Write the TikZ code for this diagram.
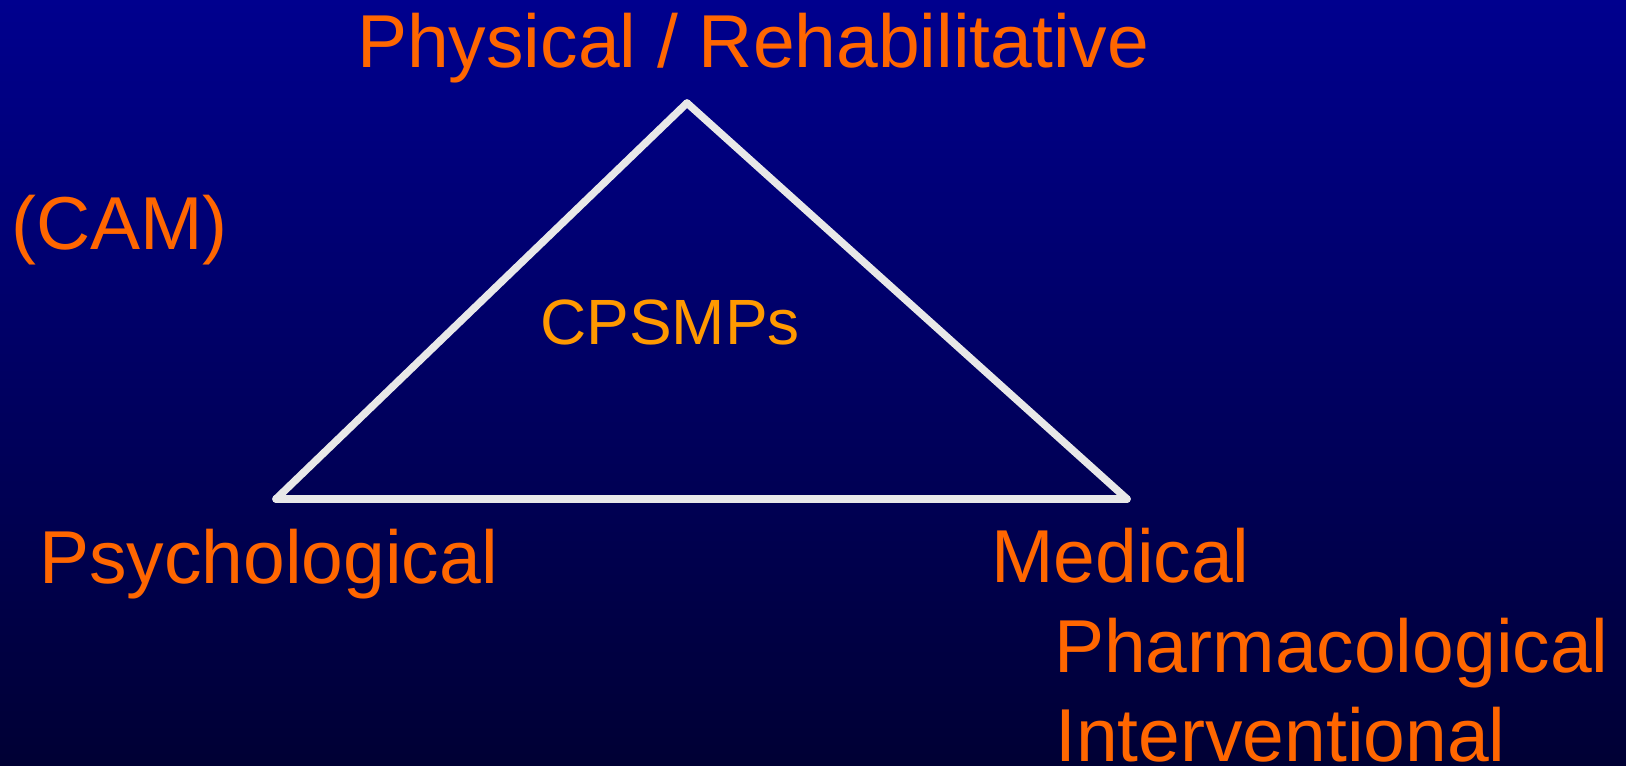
\documentclass[tikz,border=0pt]{standalone}
\usepackage{fontspec}
\setmainfont{Liberation Sans}
\definecolor{bgtop}{RGB}{0,0,142}
\definecolor{bgbot}{RGB}{0,0,52}
\definecolor{lbl}{RGB}{255,102,0}
\definecolor{ctr}{RGB}{255,153,0}
\definecolor{edge}{RGB}{232,232,232}
\tikzset{
  lab/.style={anchor=base west, inner sep=0pt, text=lbl, font=\fontsize{75}{90}\selectfont},
  ctrlab/.style={anchor=base west, inner sep=0pt, text=ctr, font=\fontsize{64}{77}\selectfont},
  side/.style={draw=edge, line width=7.5pt, line cap=round}
}
\begin{document}
\begin{tikzpicture}[x=1pt, y=-1pt]
\shade[top color=bgtop, bottom color=bgbot] (0,0) rectangle (1626,766);
\useasboundingbox (0,0) rectangle (1626,766);
\coordinate (apex) at (687,103);
\coordinate (lv) at (276,499);
\coordinate (rv) at (1127,499);
\draw[side] (apex) -- (lv);
\draw[side] (lv) -- (rv);
\draw[side] (rv) -- (apex);
\node[lab] (phys) at (357,67) {Physical / Rehabilitative};
\node[lab] (cam) at (11,249) {(CAM)};
\node[ctrlab] (cps) at (540,344) {CPSMPs};
\node[lab] (psy) at (39,583) {Psychological};
\node[lab] (med) at (991,582) {Medical};
\node[lab] (pha) at (1054,672) {Pharmacological};
\node[lab] (int) at (1055,761) {Interventional};
\end{tikzpicture}
\end{document}
